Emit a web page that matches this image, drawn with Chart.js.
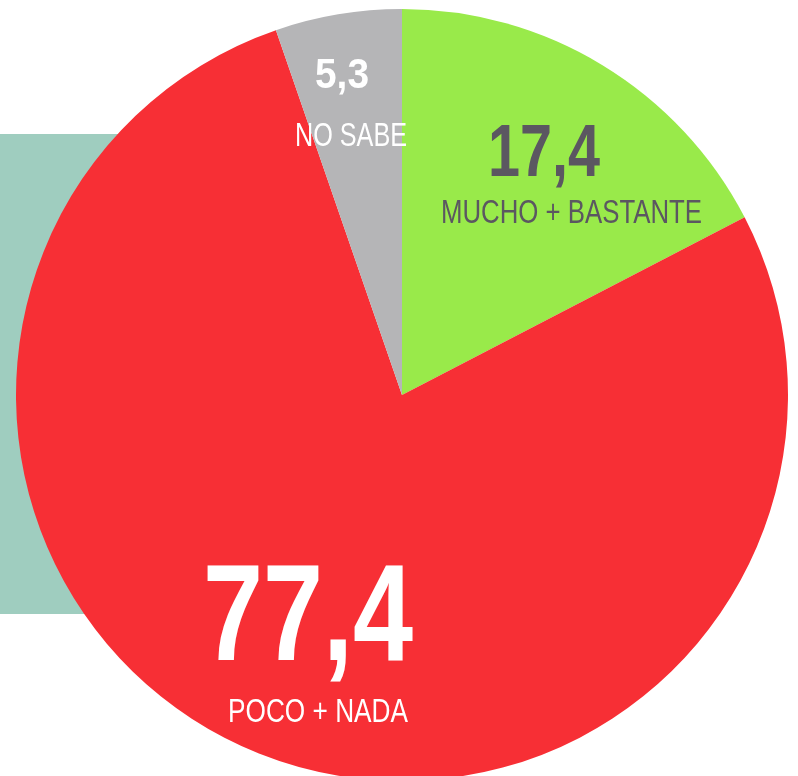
<!DOCTYPE html>
<html>
<head>
<meta charset="utf-8">
<script src="https://cdn.jsdelivr.net/npm/chart.js@4/dist/chart.umd.min.js"></script>
<style>
  html, body { margin: 0; padding: 0; width: 798px; height: 776px; overflow: hidden; background: #ffffff; }
  #band { position: absolute; left: 0; top: 134px; width: 300px; height: 480px; background: #9fcdbf; }
  #wrap { position: absolute; left: 16px; top: 9px; width: 772px; height: 772px; }
</style>
</head>
<body>
<div id="band"></div>
<div id="wrap"><canvas id="c" width="772" height="772"></canvas></div>
<script>
// ---- data ----
const categories = ['MUCHO + BASTANTE', 'POCO + NADA', 'NO SABE'];
const values = [17.4, 77.4, 5.3];
const valueLabels = ['17,4', '77,4', '5,3'];
const colors = ['#99ea4a', '#f72f35', '#b5b5b7'];

// label layout (offsets from pie centre, in px)
const labelLayout = [
  { num: { dx: 142, dy: -219, size: 75, w: 112 }, cat: { dx: 169.5, dy: -172, size: 34, w: 261 }, color: '#5b5761' },
  { num: { dx: -94, dy: 265, size: 138, w: 210 }, cat: { dx: -84, dy: 327, size: 34, w: 180 }, color: '#ffffff' },
  { num: { dx: -60, dy: -307, size: 43, w: 54 }, cat: { dx: -51, dy: -249, size: 34, w: 112 }, color: '#ffffff' }
];

const FONT = '"Liberation Sans", Arial, sans-serif';

function drawFitted(ctx, text, cx, baseline, size, weight, targetW, color) {
  ctx.save();
  ctx.font = weight + ' ' + size + 'px ' + FONT;
  ctx.fillStyle = color;
  ctx.textAlign = 'center';
  ctx.textBaseline = 'alphabetic';
  const w = ctx.measureText(text).width;
  const sx = targetW / w;
  ctx.translate(cx, baseline);
  ctx.scale(sx, 1);
  ctx.fillText(text, 0, 0);
  ctx.restore();
}

const labelPlugin = {
  id: 'sliceLabels',
  afterDatasetsDraw(chart) {
    const ctx = chart.ctx;
    const meta = chart.getDatasetMeta(0);
    meta.data.forEach((arc, i) => {
      const L = labelLayout[i];
      drawFitted(ctx, valueLabels[i], arc.x + L.num.dx, arc.y + L.num.dy, L.num.size, 'bold', L.num.w, L.color);
      drawFitted(ctx, categories[i], arc.x + L.cat.dx, arc.y + L.cat.dy, L.cat.size, 'normal', L.cat.w, L.color);
    });
  }
};

new Chart(document.getElementById('c'), {
  type: 'pie',
  data: {
    labels: categories,
    datasets: [{
      data: values,
      backgroundColor: colors,
      borderWidth: 0,
      hoverOffset: 0
    }]
  },
  options: {
    responsive: false,
    animation: false,
    layout: { padding: 0 },
    plugins: {
      legend: { display: false },
      tooltip: { enabled: false }
    },
    events: []
  },
  plugins: [labelPlugin]
});
</script>
</body>
</html>
